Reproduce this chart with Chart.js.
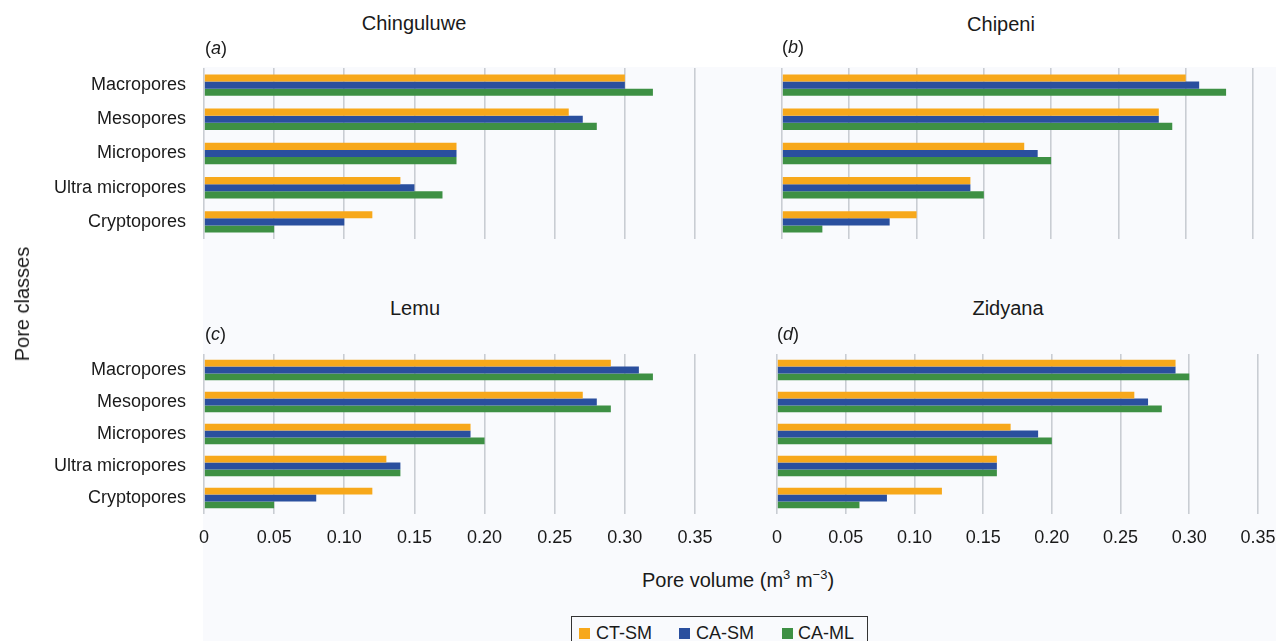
<!DOCTYPE html>
<html>
<head>
<meta charset="utf-8">
<script src="https://cdn.jsdelivr.net/npm/chart.js@4.4.1/dist/chart.umd.min.js"></script>
<style>
  html, body { margin: 0; padding: 0; background: #ffffff; }
  body { width: 1276px; height: 641px; position: relative; overflow: hidden;
         font-family: "Liberation Sans", Arial, Helvetica, sans-serif; color: #1a1a1a; }
  #bgpanel { position: absolute; left: 203px; top: 67px; right: 0; bottom: 0; background: #f9fafd; }
  .cv { position: absolute; }
  .txt { position: absolute; white-space: nowrap; line-height: 1; }
  .center { transform: translate(-50%, -50%); }
  .lefty { transform: translateY(-50%); }
  .title { font-size: 20px; }
  .tag { font-size: 18px; }
  #ylab { position: absolute; left: 22px; top: 304px; font-size: 20px; white-space: nowrap;
          transform: translate(-50%, -50%) rotate(-90deg); line-height: 1; }
  #xlab { font-size: 20px; }
  #xlab sup { font-size: 13px; vertical-align: 0; position: relative; top: -8px; }
  #legend { position: absolute; left: 571px; top: 616px; width: 295px; height: 34px;
            border: 1px solid #333; background: #f9fafd; }
  .sw { position: absolute; width: 11px; height: 11px; top: 11px; }
  .lt { position: absolute; top: 7px; font-size: 18px; line-height: 1; }
</style>
</head>
<body>
<div id="bgpanel"></div>

<canvas id="cA" class="cv"></canvas>
<canvas id="cB" class="cv"></canvas>
<canvas id="cC" class="cv"></canvas>
<canvas id="cD" class="cv"></canvas>

<div class="txt title center" style="left:414px; top:23px;">Chinguluwe</div>
<div class="txt title center" style="left:1001px; top:24px;">Chipeni</div>
<div class="txt title center" style="left:415px; top:308px;">Lemu</div>
<div class="txt title center" style="left:1008px; top:308px;">Zidyana</div>

<div class="txt tag lefty" style="left:205px; top:48px;">(<i>a</i>)</div>
<div class="txt tag lefty" style="left:782px; top:47px;">(<i>b</i>)</div>
<div class="txt tag lefty" style="left:205px; top:334px;">(<i>c</i>)</div>
<div class="txt tag lefty" style="left:777px; top:334px;">(<i>d</i>)</div>

<div id="ylab">Pore classes</div>
<div id="xlab" class="txt center" style="left:738px; top:580px;">Pore volume (m<sup>3</sup> m<sup>−3</sup>)</div>

<div id="legend">
  <div class="sw" style="left:7px; background:#F7A81B;"></div><div class="lt" style="left:24px;">CT-SM</div>
  <div class="sw" style="left:107px; background:#2A4F9E;"></div><div class="lt" style="left:124px;">CA-SM</div>
  <div class="sw" style="left:210px; background:#3E9044;"></div><div class="lt" style="left:226px;">CA-ML</div>
</div>

<script>
// ---------------- DATA ----------------
const categories = ['Macropores', 'Mesopores', 'Micropores', 'Ultra micropores', 'Cryptopores'];
const seriesNames = ['CT-SM', 'CA-SM', 'CA-ML'];
const xTickLabels = ['0', '0.05', '0.10', '0.15', '0.20', '0.25', '0.30', '0.35'];

// (a) Chinguluwe
const chinguluweCTSM = [0.30, 0.26, 0.18, 0.14, 0.12];
const chinguluweCASM = [0.30, 0.27, 0.18, 0.15, 0.10];
const chinguluweCAML = [0.32, 0.28, 0.18, 0.17, 0.05];
// (b) Chipeni
const chipeniCTSM = [0.30, 0.28, 0.18, 0.14, 0.10];
const chipeniCASM = [0.31, 0.28, 0.19, 0.14, 0.08];
const chipeniCAML = [0.33, 0.29, 0.20, 0.15, 0.03];
// (c) Lemu
const lemuCTSM = [0.29, 0.27, 0.19, 0.13, 0.12];
const lemuCASM = [0.31, 0.28, 0.19, 0.14, 0.08];
const lemuCAML = [0.32, 0.29, 0.20, 0.14, 0.05];
// (d) Zidyana
const zidyanaCTSM = [0.29, 0.26, 0.17, 0.16, 0.12];
const zidyanaCASM = [0.29, 0.27, 0.19, 0.16, 0.08];
const zidyanaCAML = [0.30, 0.28, 0.20, 0.16, 0.06];

// ---------------- STYLE ----------------
const seriesColors = ['#F7A81B', '#2A4F9E', '#3E9044'];
const gridColor = '#c9cdd3';
const textColor = '#1a1a1a';
const fontFamily = '"Liberation Sans", Arial, Helvetica, sans-serif';

function zeroPad(s) { s.paddingTop = 0; s.paddingBottom = 0; s.paddingLeft = 0; s.paddingRight = 0; }

function makePanel(id, geom, seriesData, showY, showX, catPct) {
  const cv = document.getElementById(id);
  cv.width = geom.W; cv.height = geom.H;
  cv.style.left = geom.L + 'px'; cv.style.top = geom.T + 'px';
  cv.style.width = geom.W + 'px'; cv.style.height = geom.H + 'px';
  const yWidth = geom.cl - geom.L;
  const xHeight = (geom.T + geom.H) - geom.cb;
  return new Chart(cv, {
    type: 'bar',
    data: {
      labels: categories,
      datasets: seriesData.map((d, i) => ({
        label: seriesNames[i],
        data: d,
        backgroundColor: seriesColors[i],
        borderWidth: 0,
        categoryPercentage: catPct,
        barPercentage: 1.0
      }))
    },
    options: {
      indexAxis: 'y',
      responsive: false,
      animation: false,
      devicePixelRatio: 1,
      layout: { padding: { top: geom.ct - geom.T, right: (geom.L + geom.W) - geom.cr, left: 0, bottom: 0 } },
      plugins: { legend: { display: false }, tooltip: { enabled: false }, title: { display: false } },
      scales: {
        x: {
          type: 'linear',
          min: 0, max: 0.35,
          ticks: {
            display: showX,
            stepSize: 0.05,
            padding: 13,
            color: textColor,
            font: { family: fontFamily, size: 18 },
            maxRotation: 0,
            autoSkip: false,
            callback: (v, i) => xTickLabels[i]
          },
          grid: { color: gridColor, lineWidth: 1.6, drawTicks: false },
          border: { display: false },
          afterFit: (s) => { s.height = xHeight; zeroPad(s); }
        },
        y: {
          type: 'category',
          ticks: {
            display: showY,
            padding: 18,
            color: textColor,
            font: { family: fontFamily, size: 18 }
          },
          grid: { display: false, drawTicks: false },
          border: { display: false },
          afterFit: (s) => { s.width = yWidth; zeroPad(s); }
        }
      }
    }
  });
}

makePanel('cA', { L: 0, T: 48, W: 720, H: 200, cl: 204, cr: 695, ct: 68, cb: 239 },
  [chinguluweCTSM, chinguluweCASM, chinguluweCAML], true, false, 0.625);
makePanel('cB', { L: 720, T: 48, W: 556, H: 200, cl: 782, cr: 1253, ct: 68, cb: 239 },
  [chipeniCTSM, chipeniCASM, chipeniCAML], false, false, 0.625);
makePanel('cC', { L: 0, T: 340, W: 720, H: 220, cl: 204, cr: 695, ct: 354, cb: 514 },
  [lemuCTSM, lemuCASM, lemuCAML], true, true, 0.64);
makePanel('cD', { L: 720, T: 340, W: 556, H: 220, cl: 777, cr: 1258, ct: 354, cb: 514 },
  [zidyanaCTSM, zidyanaCASM, zidyanaCAML], false, true, 0.64);
</script>
</body>
</html>
